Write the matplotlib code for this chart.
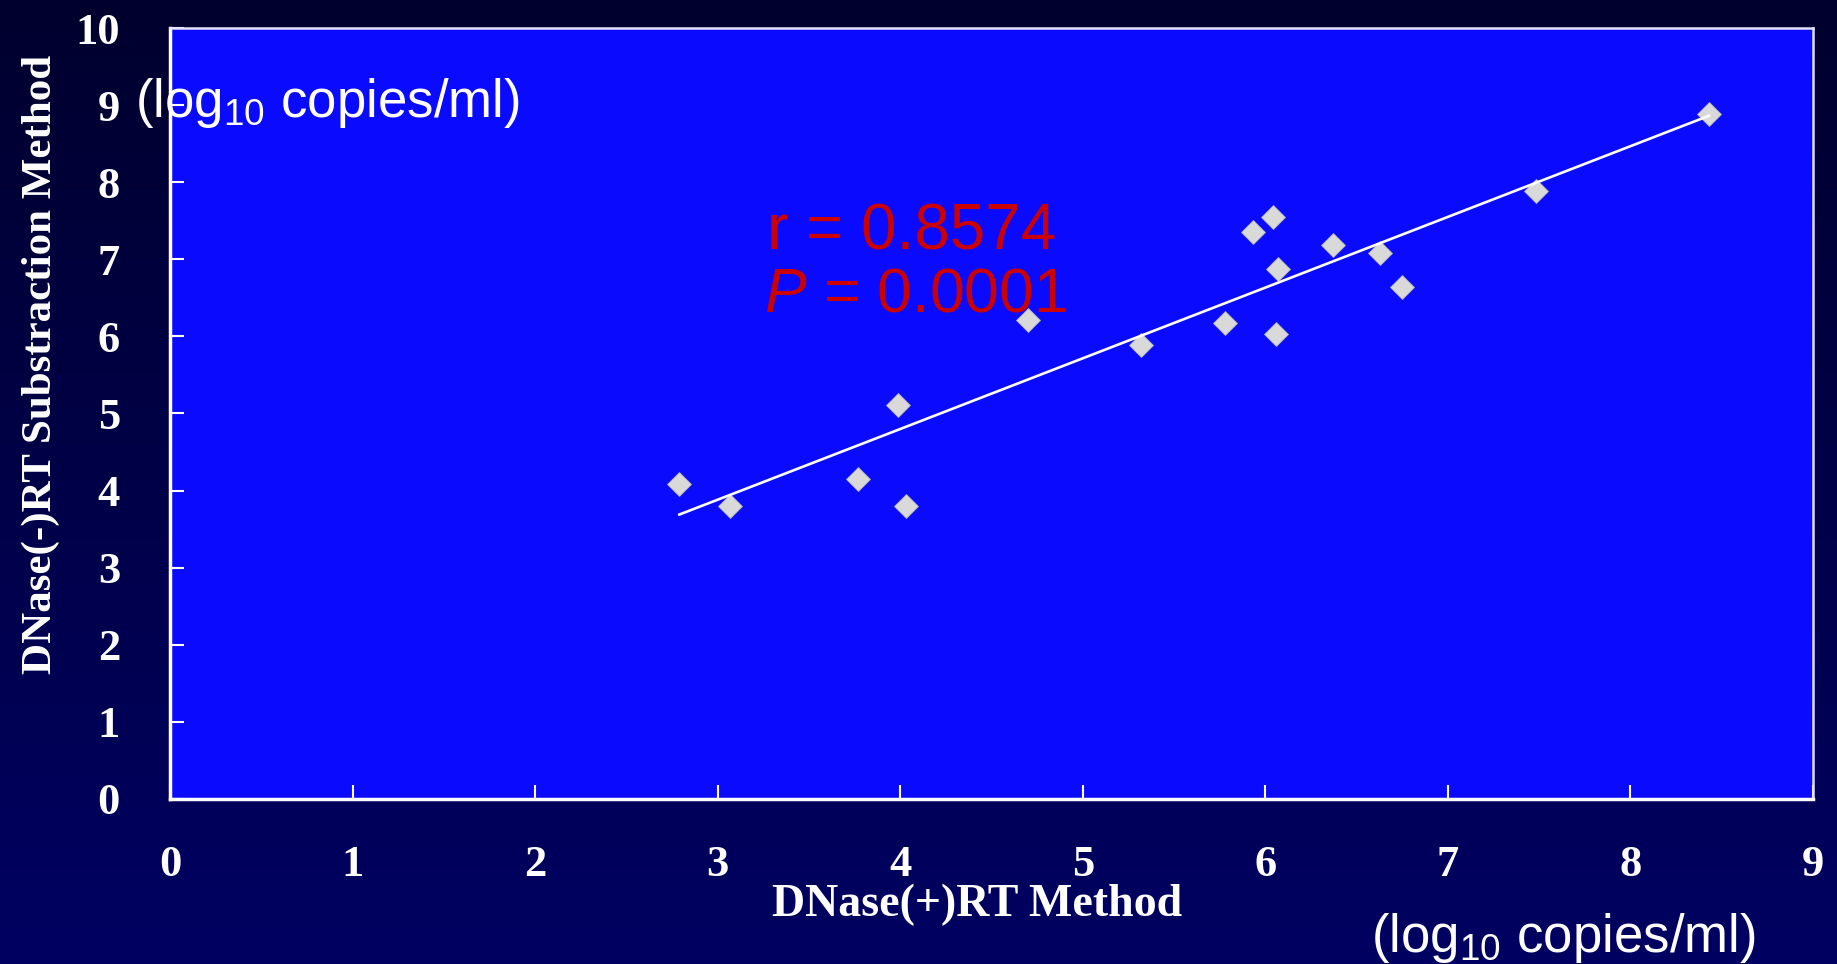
import numpy as np
import matplotlib
matplotlib.use("Agg")
import matplotlib.pyplot as plt
from matplotlib.colors import LinearSegmentedColormap

# %%
# Values
x_dnase_plus = [2.79, 3.07, 3.77, 3.99, 4.03, 4.70, 5.32, 5.78, 5.93, 6.04,
                6.07, 6.06, 6.37, 6.63, 6.75, 7.48, 8.43]
y_dnase_minus = [4.08, 3.80, 4.15, 5.11, 3.80, 6.21, 5.89, 6.18, 7.35, 7.55,
                 6.88, 6.03, 7.18, 7.08, 6.64, 7.89, 8.88]
x_ticks = list(range(0, 10))
y_ticks = list(range(0, 11))
r_text = "r = 0.8574"
p_text = "= 0.0001"
unit_text = r"(log$\mathregular{_{10}}$ copies/ml)"

plt.rcParams["mathtext.fontset"] = "custom"
plt.rcParams["mathtext.rm"] = "Liberation Sans"
plt.rcParams["mathtext.it"] = "Liberation Sans:italic"

# %%
fig = plt.figure(figsize=(18.37, 9.64), dpi=100)

# dark navy gradient background
bg = fig.add_axes([0, 0, 1, 1], zorder=-10)
cmap = LinearSegmentedColormap.from_list("navy", ["#00002e", "#000062"])
bg.imshow(np.linspace(0, 1, 256).reshape(-1, 1), aspect="auto", cmap=cmap,
          extent=[0, 1, 0, 1])
bg.axis("off")

ax = fig.add_axes([170 / 1837, 1 - 799 / 964, (1813 - 170) / 1837, (799 - 28) / 964])
ax.set_facecolor("#0a0aff")

# regression line
slope, intercept = np.polyfit(x_dnase_plus, y_dnase_minus, 1)
xs = np.array([min(x_dnase_plus), max(x_dnase_plus)])
ax.plot(xs, slope * xs + intercept, color="white", lw=1.9, zorder=4)

ax.plot(x_dnase_plus, y_dnase_minus, "D", ms=12.5, color="#d9d9d9",
        markeredgecolor="#b0b0b0", markeredgewidth=0.6, zorder=3)

ax.set_xlim(0, 9)
ax.set_ylim(0, 10)
ax.set_xticks(x_ticks)
ax.set_yticks(y_ticks)

for side in ["left", "bottom"]:
    ax.spines[side].set_color("white")
    ax.spines[side].set_linewidth(2.5)
for side in ["top", "right"]:
    ax.spines[side].set_color("#e0e0ff")
    ax.spines[side].set_linewidth(1.8)

ax.tick_params(axis="both", direction="in", color="white", length=10, width=1.5,
               labelcolor="white")
ax.tick_params(axis="x", pad=33)
ax.tick_params(axis="y", pad=36)
for lab in ax.get_xticklabels() + ax.get_yticklabels():
    lab.set_fontfamily("Liberation Serif")
    lab.set_fontweight("bold")
    lab.set_fontsize(32)

ax.set_xlabel("DNase(+)RT Method", fontfamily="Liberation Serif", fontweight="bold",
              fontsize=33, color="white")
ax.xaxis.set_label_coords(0.491, -0.11)
ax.set_ylabel("DNase(-)RT Substraction Method", fontfamily="Liberation Serif",
              fontweight="bold", fontsize=31, color="white")
ax.yaxis.set_label_coords(-0.067, 0.563)

# statistics
ax.text(767 / 1837, 1 - 250 / 964, r_text, transform=fig.transFigure,
        fontfamily="Liberation Sans", fontsize=46, color="#cc0000")
ax.text(764 / 1837, 1 - 312 / 964, r"$\mathit{P}$ " + p_text, transform=fig.transFigure,
        fontfamily="Liberation Sans", fontsize=45, color="#cc0000")

# unit annotations
fig.text(135 / 1837, 1 - 117 / 964, unit_text, fontfamily="Liberation Sans",
         fontsize=38, color="white")
fig.text(1371 / 1837, 1 - 952 / 964, unit_text, fontfamily="Liberation Sans",
         fontsize=38, color="white")

fig.savefig("out.png", dpi=100)
